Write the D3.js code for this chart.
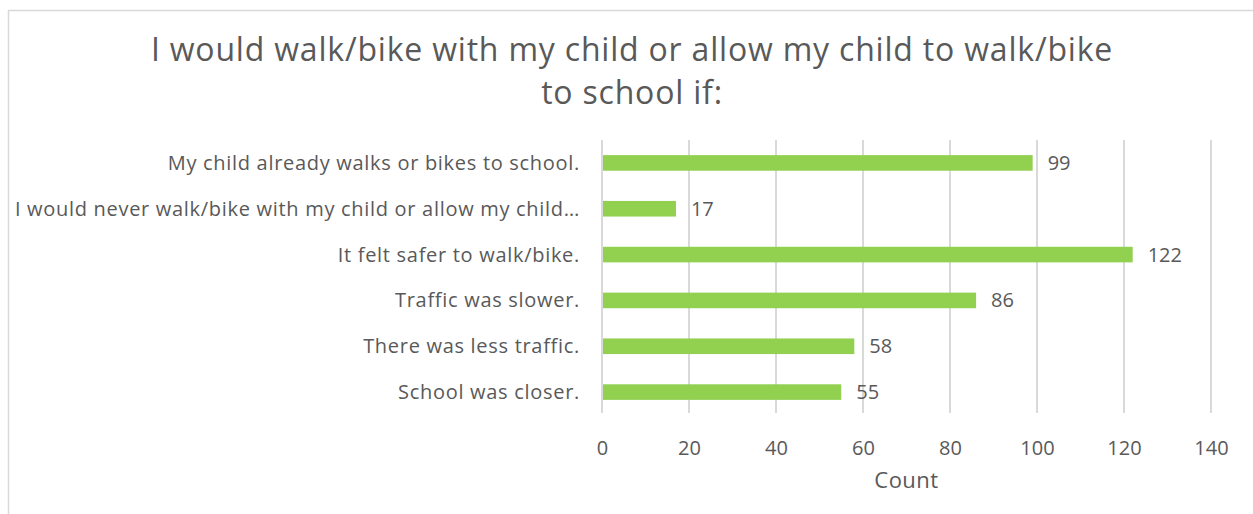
<!DOCTYPE html>
<html>
<head>
<meta charset="utf-8">
<script src="https://cdn.jsdelivr.net/npm/d3@7"></script>
<style>
    body { margin: 0; background: #fff; }
    svg text { font-family: "Open Sans", "Noto Sans", sans-serif; fill: #595959; }
</style>
</head>
<body>
<script>
(function(){

    var categories = [
        "My child already walks or bikes to school.",
        "I would never walk/bike with my child or allow my child\u2026",
        "It felt safer to walk/bike.",
        "Traffic was slower.",
        "There was less traffic.",
        "School was closer."
    ];
    var counts = [99, 17, 122, 86, 58, 55];
    var xTicks = [0, 20, 40, 60, 80, 100, 120, 140];
    var titleLines = ["I would walk/bike with my child or allow my child to walk/bike", "to school if:"];
    var xTitle = "Count";

    window.onload = drawChart;

    function drawChart(){
        var width = 1253,
            height = 514;

        var svg = d3.select("body")
            .append("svg")
            .attr("width", width)
            .attr("height", height);

        // chart frame (runs off right and bottom edges)
        svg.append("rect")
            .attr("x", 8.5)
            .attr("y", 10.5)
            .attr("width", 1260)
            .attr("height", 520)
            .style("fill", "none")
            .style("stroke", "#d9d9d9")
            .style("stroke-width", 1.5);

        var plot = {left: 602, right: 1211, top: 140, bottom: 413};

        var x = d3.scaleLinear()
            .domain([0, 140])
            .range([plot.left, plot.right]);

        var y = d3.scaleBand()
            .domain(categories)
            .range([plot.top, plot.bottom + 2])
            .paddingInner(0.66)
            .paddingOuter(0.33);

        svg.selectAll(".grid")
            .data(xTicks)
            .enter()
            .append("line")
            .attr("class", "grid")
            .attr("x1", d => x(d))
            .attr("x2", d => x(d))
            .attr("y1", plot.top)
            .attr("y2", plot.bottom)
            .style("stroke", "#d9d9d9")
            .style("stroke-width", 2);

        svg.selectAll(".bar")
            .data(counts)
            .enter()
            .append("rect")
            .attr("class", "bar")
            .attr("x", x(0) + 1)
            .attr("y", (d, i) => y(categories[i]))
            .attr("width", d => x(d) - x(0) - 1)
            .attr("height", y.bandwidth())
            .style("fill", "#92d050");

        svg.selectAll(".val")
            .data(counts)
            .enter()
            .append("text")
            .attr("class", "val")
            .attr("x", d => x(d) + 15)
            .attr("y", (d, i) => y(categories[i]) + y.bandwidth() / 2)
            .attr("dy", "0.35em")
            .style("font-size", "20px")
            .text(d => d);

        svg.selectAll(".cat")
            .data(categories)
            .enter()
            .append("text")
            .attr("class", "cat")
            .attr("x", 580)
            .attr("y", d => y(d) + y.bandwidth() / 2)
            .attr("dy", "0.35em")
            .attr("text-anchor", "end")
            .style("font-size", "20px")
            .style("letter-spacing", "0.7px")
            .text(d => d);

        var axis = svg.append("g")
            .attr("transform", "translate(0," + plot.bottom + ")")
            .call(d3.axisBottom(x).tickValues(xTicks).tickSize(0).tickPadding(28));
        axis.select(".domain").remove();
        axis.selectAll("text")
            .style("font-size", "20px")
            .style("font-family", "\"Open Sans\", sans-serif")
            .style("fill", "#595959");

        svg.append("text")
            .attr("x", (plot.left + plot.right) / 2)
            .attr("y", 488)
            .attr("text-anchor", "middle")
            .style("font-size", "22px")
            .style("letter-spacing", "0.5px")
            .text(xTitle);

        svg.selectAll(".title")
            .data(titleLines)
            .enter()
            .append("text")
            .attr("class", "title")
            .attr("x", 632)
            .attr("y", (d, i) => 61 + i * 43)
            .attr("text-anchor", "middle")
            .style("font-size", "32px")
            .style("letter-spacing", "0.8px")
            .text(d => d);
    }

})();
</script>
</body>
</html>
